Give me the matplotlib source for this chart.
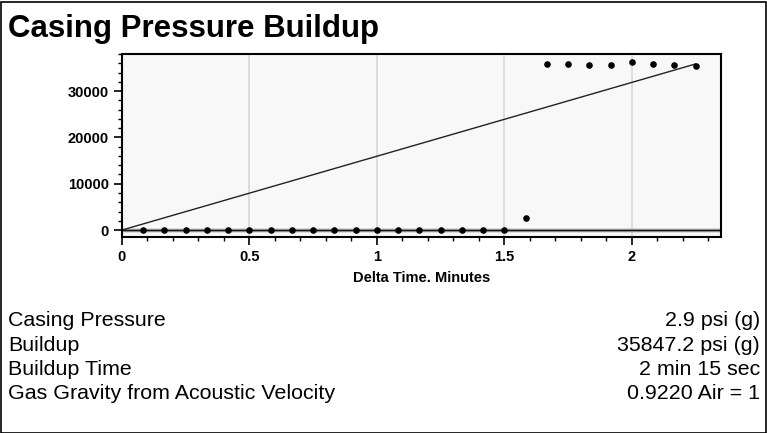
import numpy as np
import matplotlib.pyplot as plt
from matplotlib.ticker import MultipleLocator
from matplotlib.patches import Rectangle

# delta time (min) and casing pressure (psi)
t_min = np.arange(1, 28) / 12.0
pressure = [0] * 18 + [2500, 35900, 35900, 35600, 35700, 36200, 35900, 35700, 35500]
fit_t = [0.0, 2.25]
fit_p = [0.0, 35847.2]

rows = [
    ("Casing Pressure", "2.9 psi (g)"),
    ("Buildup", "35847.2 psi (g)"),
    ("Buildup Time", "2 min 15 sec"),
    ("Gas Gravity from Acoustic Velocity", "0.9220 Air = 1"),
]

W, H = 767, 433
fig = plt.figure(figsize=(W / 100, H / 100), dpi=100)
plt.rcParams['font.family'] = ['Liberation Sans', 'DejaVu Sans']

fig.patches.append(Rectangle((0.5 / W, 0.5 / H), 1 - 2 / W, 1 - 2 / H, transform=fig.transFigure,
                             fill=False, edgecolor='black', linewidth=1.2))
fig.text(8 / W, 1 - 29 / H, "Casing Pressure Buildup", fontsize=22.5, fontweight='bold', va='center')

ax = fig.add_axes([122 / W, 1 - 237 / H, (721 - 122) / W, (237 - 54) / H])
ax.set_facecolor('#f8f8f8')
ax.set_xlim(0, 2.35)
ax.set_ylim(-1500, 38000)
ax.axhline(0, color='#888888', linewidth=2.5, zorder=1)
ax.axhline(0, color='black', linewidth=0.6, zorder=1)
for gx in [0.5, 1.0, 1.5, 2.0]:
    ax.axvline(gx, color='#d8d8d8', linewidth=1.2, zorder=0)
ax.plot(fit_t, fit_p, color='#222222', linewidth=1, zorder=2)
ax.scatter(t_min, pressure, s=14, color='black', zorder=3)

ax.xaxis.set_major_locator(MultipleLocator(0.5))
ax.xaxis.set_minor_locator(MultipleLocator(0.1))
ax.yaxis.set_major_locator(MultipleLocator(10000))
ax.yaxis.set_minor_locator(MultipleLocator(2000))
ax.set_xticks([0, 0.5, 1, 1.5, 2])
ax.set_xticklabels(["0", "0.5", "1", "1.5", "2"])
ax.tick_params(which='major', length=6, width=1.2, labelsize=10.5)
ax.tick_params(which='minor', length=3, width=1)
for lab in ax.get_xticklabels() + ax.get_yticklabels():
    lab.set_fontweight('bold')
for sp in ax.spines.values():
    sp.set_linewidth(1.5)
ax.set_xlabel("Delta Time. Minutes", fontsize=10.5, fontweight='bold', labelpad=5)

for i, (name, val) in enumerate(rows):
    y = 1 - (321 + i * 24.3) / H
    fig.text(8 / W, y, name, fontsize=15.4, va='center')
    fig.text(1 - 7 / W, y, val, fontsize=15.4, va='center', ha='right')

fig.savefig("out.png", dpi=100)
